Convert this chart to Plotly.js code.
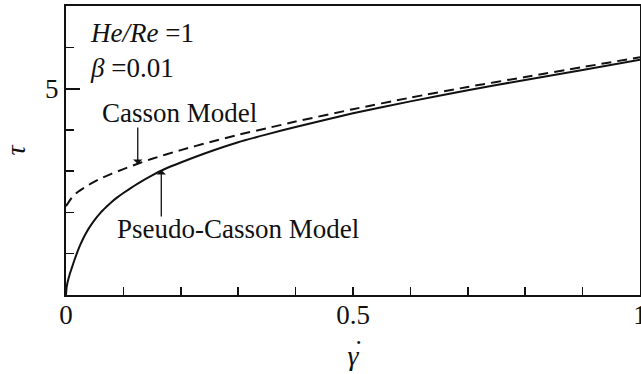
<!DOCTYPE html>
<html>
<head>
<meta charset="utf-8">
<script src="https://cdn.plot.ly/plotly-3.0.1.min.js"></script>
<style>html,body{margin:0;padding:0;background:#fff;}#chart{width:641px;height:374px;}</style>
</head>
<body>
<div id="chart"></div>
<script>
// Shear rate (gamma-dot) and shear stress (tau)
const cassonRate = [0, 0.01, 0.02, 0.04, 0.06, 0.08, 0.1, 0.125, 0.15, 0.2, 0.25, 0.3, 0.35, 0.4, 0.5, 0.6, 0.7, 0.8, 0.9, 1.0];
const cassonTau  = [2.15, 2.36, 2.49, 2.67, 2.82, 2.94, 3.05, 3.18, 3.30, 3.51, 3.70, 3.88, 4.04, 4.20, 4.50, 4.78, 5.04, 5.28, 5.52, 5.76];

const pseudoRate = [0, 0.001, 0.002, 0.004, 0.006, 0.008, 0.01, 0.015, 0.02, 0.025, 0.03, 0.035, 0.04, 0.05, 0.06, 0.07, 0.08, 0.09, 0.1, 0.125, 0.15, 0.175, 0.2, 0.25, 0.3, 0.35, 0.4, 0.5, 0.6, 0.7, 0.8, 0.9, 1.0];
const pseudoTau  = [0, 0.17, 0.26, 0.38, 0.48, 0.57, 0.65, 0.86, 1.05, 1.22, 1.37, 1.50, 1.62, 1.82, 1.99, 2.13, 2.26, 2.37, 2.47, 2.70, 2.90, 3.07, 3.21, 3.47, 3.70, 3.89, 4.07, 4.40, 4.69, 4.96, 5.21, 5.45, 5.70];

const xTickVals = [0, 0.5, 1];
const xTickText = ["0", "0.5", "1"];
const yTickVals = [5];
const yTickText = ["5"];

const serif = "'Liberation Serif', 'Times New Roman', serif";
const ink = "#111";

const traces = [
  {x: cassonRate, y: cassonTau, mode: "lines", name: "Casson Model",
   line: {color: ink, width: 2, dash: "10px,6px", shape: "spline", smoothing: 0.6}},
  {x: pseudoRate, y: pseudoTau, mode: "lines", name: "Pseudo-Casson Model",
   line: {color: ink, width: 2, shape: "spline", smoothing: 0.5}}
];

const layout = {
  width: 641, height: 374,
  margin: {l: 66, r: 1, t: 6, b: 79},
  paper_bgcolor: "#fff", plot_bgcolor: "#fff",
  showlegend: false,
  font: {family: serif, color: ink, size: 26},
  xaxis: {
    range: [0, 1], showgrid: false, zeroline: false,
    showline: true, linecolor: ink, linewidth: 2, mirror: true,
    tickmode: "array", tickvals: xTickVals, ticktext: xTickText,
    ticks: "inside", ticklen: 8, tickwidth: 2, tickcolor: ink,
    ticklabeloverflow: "allow", ticklabelstandoff: -5,
    minor: {ticks: "inside", dtick: 0.1, tick0: 0, ticklen: 8, tickwidth: 1.5, tickcolor: ink},
    tickfont: {family: serif, size: 27, color: ink},
    title: {text: "<i>γ</i>", font: {family: serif, size: 28, color: ink}, standoff: 16}
  },
  yaxis: {
    range: [0, 7], showgrid: false, zeroline: false,
    showline: true, linecolor: ink, linewidth: 2, mirror: true,
    tickmode: "array", tickvals: yTickVals, ticktext: yTickText,
    ticks: "inside", ticklen: 14, tickwidth: 2, tickcolor: ink,
    minor: {ticks: "inside", dtick: 1, tick0: 0, ticklen: 8, tickwidth: 1.5, tickcolor: ink},
    tickfont: {family: serif, size: 27, color: ink},
    title: {text: "<i>τ</i>", font: {family: serif, size: 28, color: ink}, standoff: 12}
  },
  annotations: [
    {xref: "paper", yref: "paper", x: 0.509, y: -0.19, xanchor: "center", yanchor: "middle", showarrow: false,
     text: "˙", font: {family: serif, size: 28, color: ink}},
    {xref: "x", yref: "y", x: 0.038, y: 6.35, xanchor: "left", yanchor: "middle", showarrow: false,
     text: "<i>He/Re</i> =1", font: {family: serif, size: 27, color: ink}},
    {xref: "x", yref: "y", x: 0.038, y: 5.5, xanchor: "left", yanchor: "middle", showarrow: false,
     text: "<i>β</i> =0.01", font: {family: serif, size: 27, color: ink}},
    {xref: "x", yref: "y", x: 0.059, y: 4.4, xanchor: "left", yanchor: "middle", showarrow: false,
     text: "Casson Model", font: {family: serif, size: 27, color: ink}},
    {xref: "x", yref: "y", x: 0.085, y: 1.6, xanchor: "left", yanchor: "middle", showarrow: false,
     text: "Pseudo-Casson Model", font: {family: serif, size: 27, color: ink}},
    {xref: "x", yref: "y", x: 0.125, y: 3.17, ax: 0, ay: -38, showarrow: true, text: "",
     arrowhead: 1, arrowsize: 1.2, arrowwidth: 1.3, arrowcolor: ink, standoff: 0},
    {xref: "x", yref: "y", x: 0.166, y: 3.03, ax: 0, ay: 48, showarrow: true, text: "",
     arrowhead: 1, arrowsize: 1.2, arrowwidth: 1.3, arrowcolor: ink, standoff: 0}
  ]
};

Plotly.newPlot("chart", traces, layout, {displayModeBar: false, staticPlot: true});
</script>
</body>
</html>
